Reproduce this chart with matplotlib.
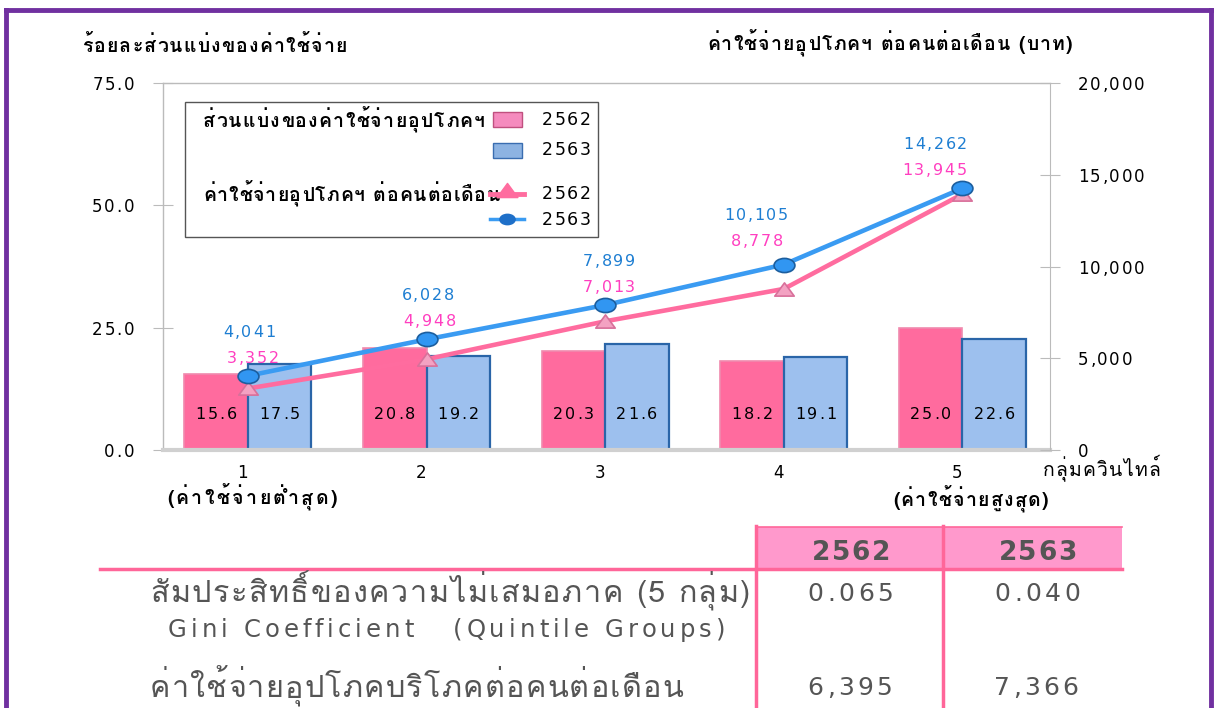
import matplotlib
matplotlib.use("Agg")
import unicodedata
import matplotlib.pyplot as plt
from matplotlib import font_manager as fm
from matplotlib.font_manager import FontProperties
from matplotlib.ft2font import FT2Font
from matplotlib.patches import Rectangle
from matplotlib.lines import Line2D
from matplotlib.path import Path
from matplotlib.transforms import IdentityTransform
import numpy as np

try:
    from matplotlib.ft2font import LoadFlags
    NOHINT = LoadFlags.NO_HINTING
except Exception:
    NOHINT = None

# ---------------- data ----------------
quintiles = ["1", "2", "3", "4", "5"]
share_2562 = [15.6, 20.8, 20.3, 18.2, 25.0]
share_2563 = [17.5, 19.2, 21.6, 19.1, 22.6]
spend_2562 = [3352, 4948, 7013, 8778, 13945]
spend_2563 = [4041, 6028, 7899, 10105, 14262]
left_ticks = [0, 25, 50, 75]
right_ticks = [0, 5000, 10000, 15000, 20000]
table_years = ["2562", "2563"]
gini = ["0.065", "0.040"]
monthly = ["6,395", "7,366"]

# label placement tweaks (pixels, style only)
lab_dx_pink = [5, 3, 4, -27, -28]
lab_dx_blue = [1, 1, 4, -28, -27]
lab_dy = [0, 0, 0, -6, 0]

# ---------------- fonts ----------------
thai_family = None
for f in fm.fontManager.ttflist:
    try:
        cm = FT2Font(f.fname).get_charmap()
        if ord("ก") in cm and ord("ุ") in cm:
            thai_family = f.name
            break
    except Exception:
        pass
THAI = ([thai_family] if thai_family else []) + ["DejaVu Sans"]
LAT = ["DejaVu Sans"]
plt.rcParams["font.family"] = THAI

W, H = 1214, 708
fig = plt.figure(figsize=(W / 100, H / 100), dpi=100)
fig.patch.set_facecolor("white")

_ft_cache = {}
_cm_cache = {}


def _font(fname):
    if fname not in _ft_cache:
        _ft_cache[fname] = FT2Font(fname)
        _cm_cache[fname] = _ft_cache[fname].get_charmap()
    return _ft_cache[fname], _cm_cache[fname]


def _pick(ch, families, weight):
    last = None
    for fam in families:
        fname = fm.findfont(FontProperties(family=fam, weight=weight))
        ft, cmap = _font(fname)
        last = ft
        if ord(ch) in cmap:
            return ft
    return last


def _adv(cl, families, weight, size):
    ft = _pick(cl[0], families, weight)
    ft.set_size(size, 100)
    try:
        g = ft.load_char(ord(cl[0]), flags=NOHINT) if NOHINT is not None else ft.load_char(ord(cl[0]))
    except Exception:
        g = ft.load_char(ord(cl[0]))
    return g.linearHoriAdvance / 65536.0


def _clusters(s):
    out = []
    for ch in s:
        if out and unicodedata.category(ch) in ("Mn", "Me"):
            out[-1] += ch
        else:
            out.append(ch)
    return out


def ttext(x, ybase, s, size, families, weight="normal", color="black", ha="left",
          track=0.0, width=None, zorder=20):
    """Text with letter spacing; x in px from left, ybase = baseline px from top."""
    cl = _clusters(s)
    advs = [_adv(c, families, weight, size) for c in cl]
    nat = sum(advs)
    if width is not None and len(cl) > 1:
        track = (width - nat) / (len(cl) - 1)
    total = nat + track * (len(cl) - 1)
    if ha == "center":
        pen = x - total / 2
    elif ha == "right":
        pen = x - total
    else:
        pen = x
    for c, a in zip(cl, advs):
        if c.strip():
            fig.text(pen, H - ybase, c, transform=IdentityTransform(), fontsize=size, family=families,
                     fontweight=weight, color=color, ha="left", va="baseline", zorder=zorder)
        pen += a + track


def fx(x):
    return x / W


def fy(y):
    return 1 - y / H


def to_px(axis, xv, yv):
    d = axis.transData.transform((xv, yv))
    return d[0], H - d[1]


# purple frame
for xs, ys in [([6, 6], [10, 712]), ([6, 1211], [10, 10]), ([1211, 1211], [10, 712])]:
    fig.add_artist(Line2D([fx(v) for v in xs], [fy(v) for v in ys], color="#7030A0", lw=3.5,
                          transform=fig.transFigure))

# ---------------- axes ----------------
ax = fig.add_axes([fx(163), fy(450), (1050 - 163) / W, (450 - 83) / H])
x = np.arange(len(quintiles))
bw = 0.355
pink = "#FF6B9E"
blue = "#9DC0EE"
ax.bar(x - bw / 2, share_2562, bw, color=pink, edgecolor="#F08AAE", linewidth=1.2, zorder=2)
ax.bar(x + bw / 2, share_2563, bw, color=blue, edgecolor="#2A65A8", linewidth=1.6, zorder=2)

ax.set_xlim(-0.475, 4.49)
ax.set_ylim(0, 75)
ax.set_yticks(left_ticks)
ax.tick_params(axis="y", direction="inout", length=14, color="#BBBBBB", labelleft=False)
ax.set_xticks(x)
ax.tick_params(axis="x", length=0, labelbottom=False)
for s in ["left", "top"]:
    ax.spines[s].set_color("#BBBBBB")
    ax.spines[s].set_linewidth(1.0)
ax.spines["right"].set_visible(False)
ax.spines["bottom"].set_color("#D0D0D0")
ax.spines["bottom"].set_linewidth(3)
ax.patch.set_alpha(0)

ax2 = ax.twinx()
ax2.set_ylim(0, 20000)
ax2.set_yticks(right_ticks)
ax2.tick_params(axis="y", direction="inout", length=14, color="#BBBBBB", labelright=False)
for s in ["left", "top", "bottom"]:
    ax2.spines[s].set_visible(False)
ax2.spines["right"].set_color("#BBBBBB")

tri = Path([(-1, -0.68), (1, -0.68), (0, 0.68), (-1, -0.68)], closed=True)
ell_v = np.array(Path.unit_circle().vertices) * np.array([1.0, 0.68])
ell = Path(ell_v, Path.unit_circle().codes)

lpink = "#FF6C9F"
lblue = "#3A9BF2"
ax2.plot(x, spend_2562, color=lpink, lw=3.3, marker=tri, ms=14, mfc="#F3A2C2", mec="#D8709A", mew=1.2, zorder=3)
ax2.plot(x, spend_2563, color=lblue, lw=3.3, marker=ell, ms=15, mfc="#3196F2", mec="#1C5E9E", mew=1.2, zorder=4)

# tick labels
for t in left_ticks:
    px, py = to_px(ax, -0.475, t)
    ttext(px - 29, py + 7, f"{t:.1f}", 12, LAT, ha="right", track=1.6)
for t in right_ticks:
    px, py = to_px(ax2, 4.49, t)
    ttext(px + 28, py + 7, f"{t:,}", 12, LAT, ha="left", track=1.6)
for xi, q in zip(x, quintiles):
    px, py = to_px(ax, xi, 0)
    ttext(px - 5, 478, q, 12, LAT, ha="center")

# bar value labels
for xi, v in zip(x, share_2562):
    px, py = to_px(ax, xi - bw / 2, 0)
    ttext(px, 419, f"{v:.1f}", 11.5, LAT, ha="center", track=1.9)
for xi, v in zip(x, share_2563):
    px, py = to_px(ax, xi + bw / 2, 0)
    ttext(px, 419, f"{v:.1f}", 11.5, LAT, ha="center", track=1.9)

# line value labels
for i, (xi, a, b) in enumerate(zip(x, spend_2562, spend_2563)):
    px, py = to_px(ax2, xi, max(a, b))
    ttext(px + lab_dx_pink[i], py - 13 + lab_dy[i], f"{a:,}", 11.5, LAT, color="#FF3FC0", ha="center", track=1.6)
    ttext(px + lab_dx_blue[i], py - 39 + lab_dy[i], f"{b:,}", 11.5, LAT, color="#1E7ED2", ha="center", track=1.6)

# axis titles / captions
ttext(82, 52, "ร้อยละส่วนแบ่งของค่าใช้จ่าย", 14, THAI, weight="bold", width=265)
ttext(707, 50, "ค่าใช้จ่ายอุปโภคฯ ต่อคนต่อเดือน (บาท)", 14, THAI, weight="bold", width=365)
ttext(1043, 476, "กลุ่มควินไทล์", 14, THAI, width=117)
ttext(167, 504, "(ค่าใช้จ่ายต่ำสุด)", 14, THAI, weight="bold", width=170)
ttext(893, 506, "(ค่าใช้จ่ายสูงสุด)", 14, THAI, weight="bold", width=155)

# ---------------- legend (manual) ----------------
fig.add_artist(Rectangle((fx(185), fy(237)), (598 - 185) / W, (237 - 102) / H, transform=fig.transFigure,
                         facecolor="white", edgecolor="#555555", lw=1.0, zorder=10))
ttext(203, 127, "ส่วนแบ่งของค่าใช้จ่ายอุปโภคฯ", 14, THAI, weight="bold", width=282, zorder=11)
ttext(203, 201, "ค่าใช้จ่ายอุปโภคฯ ต่อคนต่อเดือน", 14, THAI, weight="bold", width=297, zorder=11)
fig.add_artist(Rectangle((fx(493), fy(127)), 29 / W, 15 / H, transform=fig.transFigure,
                         facecolor="#F58BBE", edgecolor="#C0507F", lw=1.0, zorder=11))
fig.add_artist(Rectangle((fx(493), fy(158)), 29 / W, 15 / H, transform=fig.transFigure,
                         facecolor="#8DB3E2", edgecolor="#3A6DB0", lw=1.0, zorder=11))
fig.add_artist(Line2D([fx(490), fx(524)], [fy(194), fy(194)], color=lpink, lw=3.5,
                      transform=fig.transFigure, zorder=12))
fig.add_artist(Line2D([fx(507)], [fy(190)], linestyle="none", marker=tri, ms=15, mfc=lpink, mec=lpink,
                      transform=fig.transFigure, zorder=12))
fig.add_artist(Line2D([fx(490), fx(524)], [fy(219), fy(219)], color=lblue, lw=2.5, transform=fig.transFigure,
                      zorder=11))
fig.add_artist(Line2D([fx(507)], [fy(219)], linestyle="none", marker=ell, ms=11, mfc="#1E6FC8", mec="#1E6FC8",
                      transform=fig.transFigure, zorder=12))
for yy, s in zip([125, 155, 199, 225], ["2562", "2563", "2562", "2563"]):
    ttext(542, yy, s, 12.5, LAT, track=1.5, zorder=11)

# ---------------- table ----------------
tpink = "#FF6699"
fig.add_artist(Rectangle((fx(757), fy(568)), (1122 - 757) / W, (568 - 527) / H, transform=fig.transFigure,
                         facecolor="#FF99CC", edgecolor="none", zorder=1))
fig.add_artist(Line2D([fx(100), fx(1122)], [fy(569), fy(569)], color=tpink, lw=2.5, transform=fig.transFigure))
for xv in [756, 943]:
    fig.add_artist(Line2D([fx(xv), fx(xv)], [fy(526), fy(712)], color=tpink, lw=2.5, transform=fig.transFigure))
fig.add_artist(Line2D([fx(757), fx(1122)], [fy(527), fy(527)], color=tpink, lw=1.2, transform=fig.transFigure))
tcol = "#555555"
for xc, s in zip([851, 1037.5], table_years):
    ttext(xc, 560, s, 19, LAT, weight="bold", color=tcol, ha="center", width=78)
for xc, s in zip([850.5, 1037.5], gini):
    ttext(xc, 601, s, 18, LAT, color=tcol, ha="center", width=86)
for xc, s in zip([850, 1036], monthly):
    ttext(xc, 695, s, 18, LAT, color=tcol, ha="center", width=85)
ttext(150, 602, "สัมประสิทธิ์ของความไม่เสมอภาค (5 กลุ่ม)", 22, THAI, color=tcol, width=600)
ttext(168, 637, "Gini Coefficient   (Quintile Groups)", 17.5, LAT, color=tcol, width=557)
ttext(150, 697, "ค่าใช้จ่ายอุปโภคบริโภคต่อคนต่อเดือน", 22, THAI, color=tcol, width=533)

fig.savefig("out.png", dpi=100)
